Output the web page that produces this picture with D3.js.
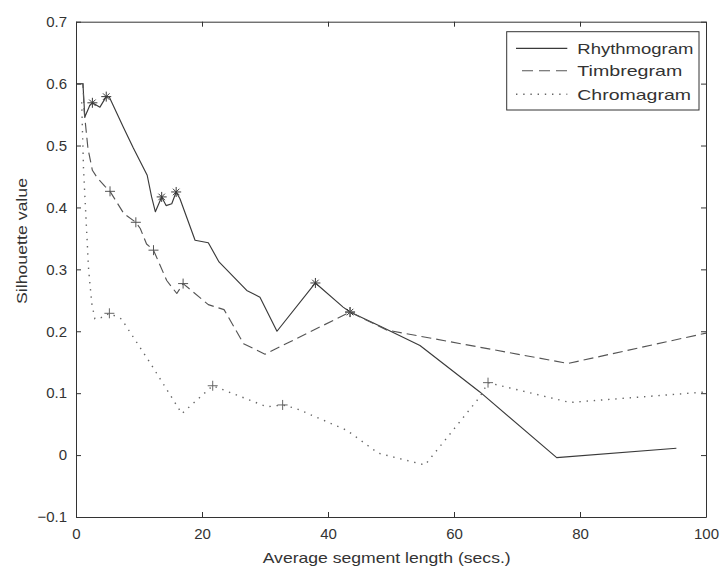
<!DOCTYPE html>
<html>
<head>
<meta charset="utf-8">
<script src="https://cdn.jsdelivr.net/npm/d3@7"></script>
<style>
  html, body { margin: 0; padding: 0; background: #fff; }
  svg { display: block; }
  text { font-family: "Liberation Sans", Arial, Helvetica, sans-serif; fill: #333; }
</style>
</head>
<body>
<svg id="chart" width="720" height="569"></svg>
<script>
// ---- Data ----
const xTicks = [0, 20, 40, 60, 80, 100];
const yTicks = [-0.1, 0, 0.1, 0.2, 0.3, 0.4, 0.5, 0.6, 0.7];
const seriesNames = ["Rhythmogram", "Timbregram", "Chromagram"];

const rhythmX = [0.2, 1.1, 1.4, 2.2, 2.6, 3.8, 4.8, 5.3, 7.5, 9.1, 11.3, 12.0, 12.6, 13.6, 14.3, 15.2, 15.9, 16.5, 18.9, 21.0, 22.7, 27.1, 29.2, 31.9, 38.0, 42.4, 43.5, 48.3, 54.6, 64.1, 76.3, 95.3];
const rhythmY = [0.600, 0.600, 0.546, 0.565, 0.569, 0.562, 0.579, 0.578, 0.530, 0.496, 0.452, 0.417, 0.393, 0.417, 0.403, 0.406, 0.425, 0.414, 0.347, 0.343, 0.312, 0.266, 0.255, 0.200, 0.278, 0.239, 0.231, 0.208, 0.177, 0.102, -0.004, 0.011];
const rhythmMarkX = [2.6, 4.8, 13.6, 15.9, 38.0, 43.5];
const rhythmMarkY = [0.569, 0.579, 0.417, 0.425, 0.278, 0.231];

const timbreX = [0.2, 1.1, 1.3, 1.9, 2.6, 3.3, 4.6, 5.4, 7.6, 9.5, 10.2, 11.2, 12.3, 14.4, 16.0, 17.0, 21.0, 23.5, 26.6, 30.0, 43.5, 49.3, 78.1, 100];
const timbreY = [0.600, 0.600, 0.555, 0.495, 0.460, 0.449, 0.434, 0.426, 0.390, 0.376, 0.366, 0.341, 0.331, 0.282, 0.261, 0.277, 0.243, 0.235, 0.180, 0.163, 0.231, 0.202, 0.148, 0.197];
const timbreMarkX = [5.4, 9.5, 12.3, 17.0, 43.5];
const timbreMarkY = [0.426, 0.376, 0.331, 0.277, 0.231];

const chromaX = [0.9, 1.2, 1.6, 2.0, 2.5, 3.0, 4.0, 5.3, 7.2, 11.7, 16.8, 21.7, 30.3, 32.8, 35.0, 43.0, 48.0, 55.4, 64.1, 65.4, 78.4, 100];
const chromaY = [0.570, 0.460, 0.380, 0.300, 0.245, 0.220, 0.222, 0.229, 0.220, 0.150, 0.067, 0.112, 0.078, 0.081, 0.075, 0.040, 0.003, -0.016, 0.094, 0.117, 0.085, 0.102];
const chromaMarkX = [5.3, 21.7, 32.8, 65.4];
const chromaMarkY = [0.229, 0.112, 0.081, 0.117];

// ---- Layout ----
const svg = d3.select("#chart");
const L = 76, R = 706, T = 21.7, B = 517;
const x = d3.scaleLinear().domain([0, 100]).range([L, R]);
const y = d3.scaleLinear().domain([-0.1, 0.7]).range([B, T]);
const axisColor = "#333";

svg.append("rect").attr("width", 720).attr("height", 569).attr("fill", "#fff");

function styleAxis(g) {
  g.selectAll("path.domain").attr("stroke", axisColor).attr("stroke-width", 1);
  g.selectAll(".tick line").attr("stroke", axisColor).attr("stroke-width", 1);
  g.selectAll(".tick text").attr("fill", "#333").style("font-size", "15px")
    .style("font-family", '"Liberation Sans", Arial, sans-serif');
}
const fmtY = d => (Math.abs(d) < 1e-9 ? "0" : d3.format(".1f")(d));

svg.append("g").attr("transform", `translate(0,${B})`)
  .call(d3.axisBottom(x).tickValues(xTicks).tickSizeInner(-5).tickSizeOuter(0).tickPadding(11).tickFormat(d3.format("d")))
  .call(styleAxis);
svg.append("g").attr("transform", `translate(0,${T})`)
  .call(d3.axisTop(x).tickValues(xTicks).tickSizeInner(-5).tickSizeOuter(0).tickFormat(""))
  .call(styleAxis);
svg.append("g").attr("transform", `translate(${L},0)`)
  .call(d3.axisLeft(y).tickValues(yTicks).tickSizeInner(-5).tickSizeOuter(0).tickPadding(9).tickFormat(fmtY))
  .call(styleAxis);
svg.append("g").attr("transform", `translate(${R},0)`)
  .call(d3.axisRight(y).tickValues(yTicks).tickSizeInner(-5).tickSizeOuter(0).tickFormat(""))
  .call(styleAxis);

// ---- Axis labels ----
svg.append("text").attr("x", 386.7).attr("y", 563).attr("text-anchor", "middle")
  .style("font-size", "15px").attr("textLength", 248).attr("lengthAdjust", "spacingAndGlyphs")
  .text("Average segment length (secs.)");
svg.append("text").attr("transform", "translate(26.5,241) rotate(-90)").attr("text-anchor", "middle")
  .style("font-size", "15px").attr("textLength", 126).attr("lengthAdjust", "spacingAndGlyphs")
  .text("Silhouette value");

// ---- Lines ----
const line = d3.line().x(d => x(d[0])).y(d => y(d[1]));
const styles = [
  { xs: rhythmX, ys: rhythmY, mx: rhythmMarkX, my: rhythmMarkY, color: "#3a3a3a", dash: null, width: 1.15, marker: "star" },
  { xs: timbreX, ys: timbreY, mx: timbreMarkX, my: timbreMarkY, color: "#555", dash: "10,5", width: 1.15, marker: "plus" },
  { xs: chromaX, ys: chromaY, mx: chromaMarkX, my: chromaMarkY, color: "#666", dash: "1.4,5.8", width: 1.4, marker: "plus" }
];

styles.forEach(s => {
  const pts = s.xs.map((v, i) => [v, s.ys[i]]);
  const p = svg.append("path").datum(pts).attr("d", line)
    .attr("fill", "none").attr("stroke", s.color).attr("stroke-width", s.width)
    .attr("stroke-linejoin", "round");
  if (s.dash) p.attr("stroke-dasharray", s.dash);
});

function drawMarker(g, cx, cy, type, color) {
  const r = 5;
  let d = `M${cx - r},${cy}L${cx + r},${cy}M${cx},${cy - r}L${cx},${cy + r}`;
  if (type === "star") {
    const q = r * 0.65;
    d += `M${cx - q},${cy - q}L${cx + q},${cy + q}M${cx - q},${cy + q}L${cx + q},${cy - q}`;
  }
  g.append("path").attr("d", d).attr("stroke", color).attr("stroke-width", 1).attr("fill", "none");
}
styles.forEach(s => {
  const g = svg.append("g");
  s.mx.forEach((v, i) => drawMarker(g, x(v), y(s.my[i]), s.marker, s.color));
});

// ---- Legend ----
const lg = svg.append("g");
lg.append("rect").attr("x", 506.7).attr("y", 31.7).attr("width", 192.3).attr("height", 78.3)
  .attr("fill", "#fff").attr("stroke", axisColor).attr("stroke-width", 1);
const legRows = [48.3, 70.7, 94.3];
const legWidths = [116, 105, 113.7];
seriesNames.forEach((name, i) => {
  const s = styles[i];
  const l = lg.append("line").attr("x1", 516).attr("x2", 567.3).attr("y1", legRows[i]).attr("y2", legRows[i])
    .attr("stroke", s.color).attr("stroke-width", s.width);
  if (i === 1) l.attr("x1", 522).attr("stroke-dasharray", "11,6");
  if (i === 2) l.attr("stroke-dasharray", "1.4,5.8");
  lg.append("text").attr("x", 577.3).attr("y", legRows[i] + 5.5)
    .style("font-size", "15px").attr("textLength", legWidths[i]).attr("lengthAdjust", "spacingAndGlyphs")
    .text(name);
});
</script>
</body>
</html>
